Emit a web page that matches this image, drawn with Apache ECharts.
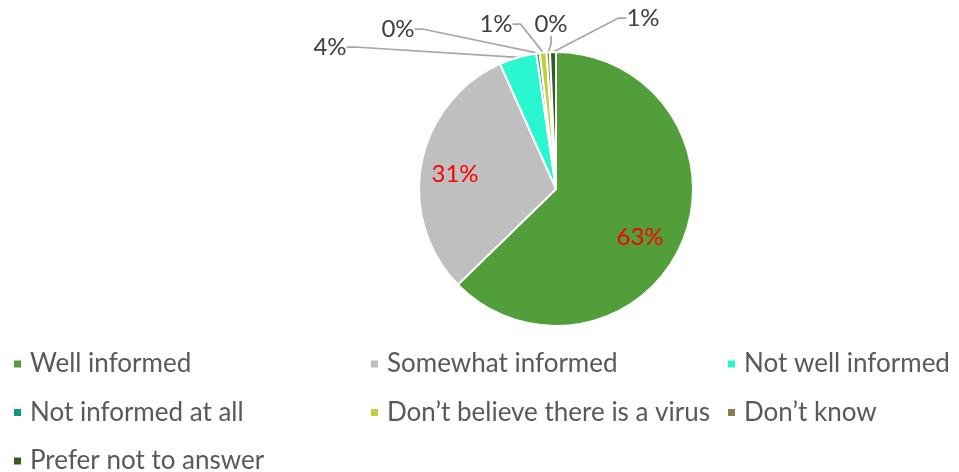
<!DOCTYPE html>
<html>
<head>
<meta charset="utf-8">
<script src="https://cdn.jsdelivr.net/npm/echarts@6/dist/echarts.min.js"></script>
<style>
  html, body { margin: 0; padding: 0; background: #fff; }
  #chart { width: 959px; height: 472px; }
</style>
</head>
<body>
<div id="chart"></div>
<script>
// Survey answers: how well informed respondents feel about the virus
const categories = [
  'Well informed',
  'Somewhat informed',
  'Not well informed',
  'Not informed at all',
  'Don\u2019t believe there is a virus',
  'Don\u2019t know',
  'Prefer not to answer'
];
const shares = [62.7, 30.6, 4.4, 0.4, 0.8, 0.4, 0.7];
const sliceColors = ['#529E3A', '#BFBFBF', '#2AF6CF', '#0E9A7E', '#C3CF38', '#8B7A52', '#2F5D22'];

// Legend layout: three columns
const legendColumns = [
  [categories[0], categories[3], categories[6]],
  [categories[1], categories[4]],
  [categories[2], categories[5]]
];

const FONT = 'Lato, "Noto Sans", sans-serif';
const CX = 556, CY = 189, R = 137;

// Where the percentage labels sit (label centres)
const labelSpots = {
  0: [640, 237],
  1: [455, 174],
  2: [330, 47],
  3: [398, 29],
  4: [496, 24],
  5: [551, 24],
  6: [643, 18]
};

const chart = echarts.init(document.getElementById('chart'), null, { renderer: 'canvas' });

const pieData = categories.map((name, i) => {
  const inside = i < 2;
  return {
    name,
    value: shares[i],
    itemStyle: { color: sliceColors[i] },
    label: inside
      ? { position: 'inside', color: '#FF0000' }
      : { position: 'outside', color: '#404040' },
    labelLine: { show: !inside }
  };
});

function legendCol(left, names) {
  return {
    orient: 'vertical',
    left: left,
    top: 351,
    height: 160,
    padding: 0,
    itemWidth: 9,
    itemHeight: 9,
    itemGap: 22.5,
    icon: 'rect',
    data: names,
    selectedMode: false,
    textStyle: { fontFamily: FONT, fontSize: 26, color: '#595959', lineHeight: 26, padding: [0, 0, 0, 3] }
  };
}

chart.setOption({
  animation: false,
  backgroundColor: '#ffffff',
  legend: [
    legendCol(12, legendColumns[0]),
    legendCol(369, legendColumns[1]),
    legendCol(726, legendColumns[2])
  ],
  series: [{
    type: 'pie',
    center: [CX, CY],
    radius: [0, R],
    startAngle: 90,
    clockwise: true,
    avoidLabelOverlap: false,
    itemStyle: { borderColor: '#ffffff', borderWidth: 2 },
    label: {
      show: true,
      fontFamily: FONT,
      fontSize: 24,
      formatter: p => Math.round(p.percent) + '%'
    },
    labelLine: {
      show: true,
      length: 8,
      length2: 8,
      lineStyle: { color: '#A6A6A6', width: 1.75 }
    },
    labelLayout: function (params) {
      const s = labelSpots[params.dataIndex];
      return { x: s[0], y: s[1], align: 'center', verticalAlign: 'middle' };
    },
    data: pieData
  }]
});
</script>
</body>
</html>
